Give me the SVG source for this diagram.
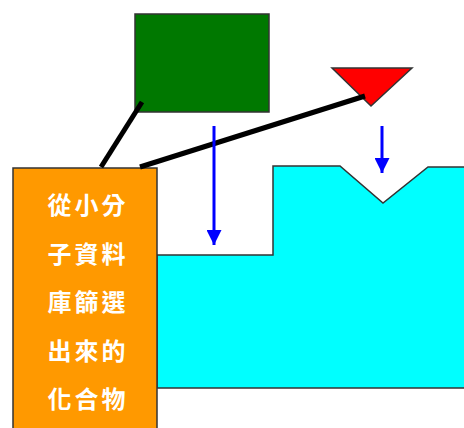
<svg xmlns="http://www.w3.org/2000/svg" width="464" height="428" viewBox="0 0 464 428">
  <style>
    .edge { stroke: #333; stroke-width: 1.5; }
    .link { stroke: #000; stroke-width: 5; fill: none; }
    .flow { stroke: #0000ff; stroke-width: 3; fill: none; }
    .label { font-family: "Noto Sans CJK TC", "Noto Sans CJK SC", serif; font-weight: bold; font-size: 24px; fill: #fff; letter-spacing: 3px; text-anchor: middle; dominant-baseline: central; }
  </style>
  <defs>
    <marker id="head" viewBox="0 0 10 10" refX="10" refY="5" markerWidth="5" markerHeight="5" markerUnits="strokeWidth" orient="auto">
      <path d="M0,0 L10,5 L0,10 Z" fill="#0000ff"/>
    </marker>
  </defs>
  <rect width="464" height="428" fill="#fff"/>

  <!-- receptor surface with binding pocket -->
  <g id="receptor">
    <path class="edge" fill="#00ffff" d="M157,255 L273,255 L273,166 L340,166 L383,203 L428,167 L466,167 L466,388 L157,388 Z"/>
  </g>

  <!-- ligand blocks -->
  <g id="ligand-square">
    <rect class="edge" x="135" y="14" width="134" height="98" fill="#007800"/>
  </g>
  <g id="ligand-triangle">
    <path class="edge" fill="#ff0000" d="M332,68 L412,68 L371,106 Z"/>
  </g>

  <!-- screened compound label -->
  <g id="compound-box">
    <rect class="edge" x="13" y="168" width="144" height="264" fill="#ff9900"/>
    <text class="label" x="88" y="203">從小分</text>
    <text class="label" x="88" y="252">子資料</text>
    <text class="label" x="88" y="300">庫篩選</text>
    <text class="label" x="88" y="349">出來的</text>
    <text class="label" x="88" y="397">化合物</text>
  </g>

  <g id="connectors">
    <line class="link" x1="142" y1="102" x2="101" y2="167"/>
    <line class="link" x1="140" y1="167" x2="365" y2="96"/>
    <line class="flow" x1="214" y1="126" x2="214" y2="245" marker-end="url(#head)"/>
    <line class="flow" x1="382" y1="126" x2="382" y2="173" marker-end="url(#head)"/>
  </g>
</svg>
